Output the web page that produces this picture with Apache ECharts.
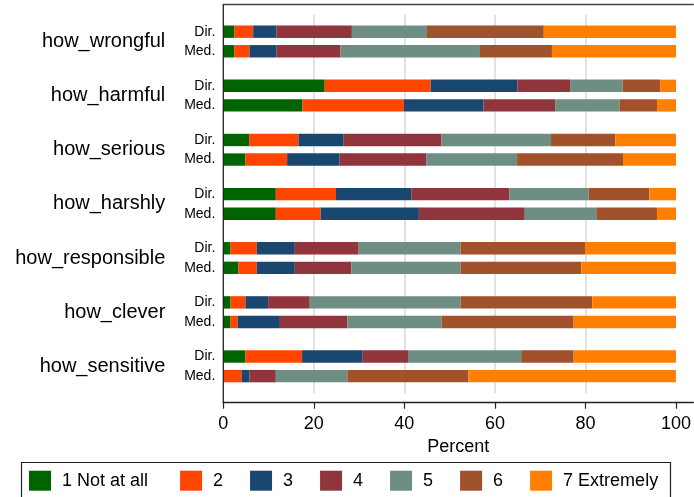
<!DOCTYPE html>
<html>
<head>
<meta charset="utf-8">
<script src="https://cdn.jsdelivr.net/npm/echarts@6/dist/echarts.min.js"></script>
<style>
html,body{margin:0;padding:0;background:#fff;}
#chart{width:694px;height:497px;}
</style>
</head>
<body>
<div id="chart"></div>
<script>
// Categories
const groups = ['how_wrongful','how_harmful','how_serious','how_harshly','how_responsible','how_clever','how_sensitive'];
const levels = ['1 Not at all','2','3','4','5','6','7 Extremely'];
const rowLabels = ['Dir.','Med.'];
const xTicks = [0,20,40,60,80,100];

// Percent per response level (Dir.)
const dir1 = [2.4, 22.4, 5.7, 11.6, 1.6, 1.6, 4.9];
const dir2 = [4.2, 23.4, 10.9, 13.3, 5.8, 3.3, 12.5];
const dir3 = [5.1, 19.2, 10.0, 16.7, 8.4, 5.0, 13.4];
const dir4 = [16.7, 11.6, 21.6, 21.6, 14.1, 9.2, 10.0];
const dir5 = [16.6, 11.6, 24.2, 17.5, 22.5, 33.3, 25.0];
const dir6 = [25.8, 8.3, 14.2, 13.4, 27.5, 29.1, 11.6];
const dir7 = [29.2, 3.5, 13.4, 5.9, 20.1, 18.5, 22.6];

// Percent per response level (Med.)
const med1 = [2.4, 17.5, 4.9, 11.6, 3.3, 1.6, 0];
const med2 = [3.4, 22.4, 9.2, 9.9, 4.1, 1.6, 4.1];
const med3 = [5.9, 17.6, 11.6, 21.7, 8.4, 9.3, 1.7];
const med4 = [14.2, 15.8, 19.2, 23.4, 12.5, 14.9, 5.8];
const med5 = [30.8, 14.2, 20.0, 15.8, 24.1, 20.8, 15.8];
const med6 = [15.9, 8.3, 23.4, 13.4, 26.7, 29.2, 26.7];
const med7 = [27.4, 4.2, 11.7, 4.2, 20.9, 22.6, 45.9];

const colors = ['#006400','#ff4500','#1a476f','#90353b','#6e8e84','#a0522d','#ff8000'];

const dirSets = [dir1,dir2,dir3,dir4,dir5,dir6,dir7];
const medSets = [med1,med2,med3,med4,med5,med6,med7];

const FONT = '"Liberation Sans", Arial, Helvetica, sans-serif';
const BAR_W = 12.4;

function makeSeries(sets, stackName, rowLabel) {
  return sets.map((vals, i) => ({
    name: levels[i],
    type: 'bar',
    stack: stackName,
    barWidth: BAR_W,
    barGap: '58%',
    barCategoryGap: 0,
    itemStyle: { color: colors[i] },
    emphasis: { disabled: true },
    label: i === 0 ? {
      show: true,
      position: 'left',
      distance: 8,
      formatter: () => rowLabel,
      color: '#000',
      fontSize: 14,
      fontFamily: FONT
    } : { show: false },
    data: vals
  }));
}

const chart = echarts.init(document.getElementById('chart'), null, { renderer: 'canvas' });

const gridLeft = 223.3;
const gridTop = 14.4;
const gridHeight = 379;
const pxPerPct = 4.534;
const xMax = (694 - gridLeft) / pxPerPct;

chart.setOption({
  animation: false,
  backgroundColor: '#fff',
  textStyle: { fontFamily: FONT },
  grid: { left: gridLeft, top: gridTop, height: gridHeight, right: 0, containLabel: false },
  legend: {
    data: levels,
    left: 29,
    top: 470.7,
    padding: 0,
    itemWidth: 22,
    itemHeight: 20,
    itemGap: 27,
    icon: 'rect',
    selectedMode: false,
    formatter: (name) => name === levels[0] ? name + ' ' : name,
    textStyle: { fontSize: 18, color: '#000', fontFamily: FONT, padding: [0, 0, 0, 6] }
  },
  xAxis: [{
    type: 'value',
    position: 'bottom',
    min: 0,
    max: xMax,
    interval: 20,
    offset: 402.7 - (gridTop + gridHeight),
    axisLine: { show: true, lineStyle: { color: '#222', width: 1.3 } },
    axisTick: { show: true, length: 6, customValues: xTicks, lineStyle: { color: '#222', width: 1.2 } },
    axisLabel: { customValues: xTicks, fontSize: 18, color: '#000', margin: 12, fontFamily: FONT },
    splitLine: { show: true, showMinLine: false, showMaxLine: false, lineStyle: { color: '#d8d8d8', width: 1.5 } },
    name: 'Percent',
    nameLocation: 'middle',
    nameGap: 30,
    nameTextStyle: { fontSize: 18, color: '#000', fontFamily: FONT }
  }, {
    type: 'value',
    position: 'top',
    min: 0,
    max: xMax,
    interval: 20,
    offset: gridTop - 4.5,
    axisLine: { show: true, onZero: false, lineStyle: { color: '#444', width: 1.3 } },
    axisTick: { show: false },
    axisLabel: { show: false },
    splitLine: { show: false }
  }],
  yAxis: {
    type: 'category',
    data: groups,
    inverse: true,
    axisLine: { show: false },
    axisTick: { show: false },
    axisLabel: { fontSize: 20, color: '#000', margin: 58, fontFamily: FONT },
    splitLine: { show: false }
  },
  graphic: [
    {
      type: 'line',
      shape: { x1: gridLeft, y1: 4.5, x2: gridLeft, y2: 402.7 },
      style: { stroke: '#222', lineWidth: 1.3 },
      z: 100
    },
    {
      type: 'rect',
      shape: { x: 21.5, y: 462.5, width: 649, height: 60 },
      style: { fill: 'none', stroke: '#222', lineWidth: 1.2 },
      z: 100
    }
  ],
  series: [
    ...makeSeries(dirSets, 'dir', rowLabels[0]),
    ...makeSeries(medSets, 'med', rowLabels[1])
  ]
});
</script>
</body>
</html>
